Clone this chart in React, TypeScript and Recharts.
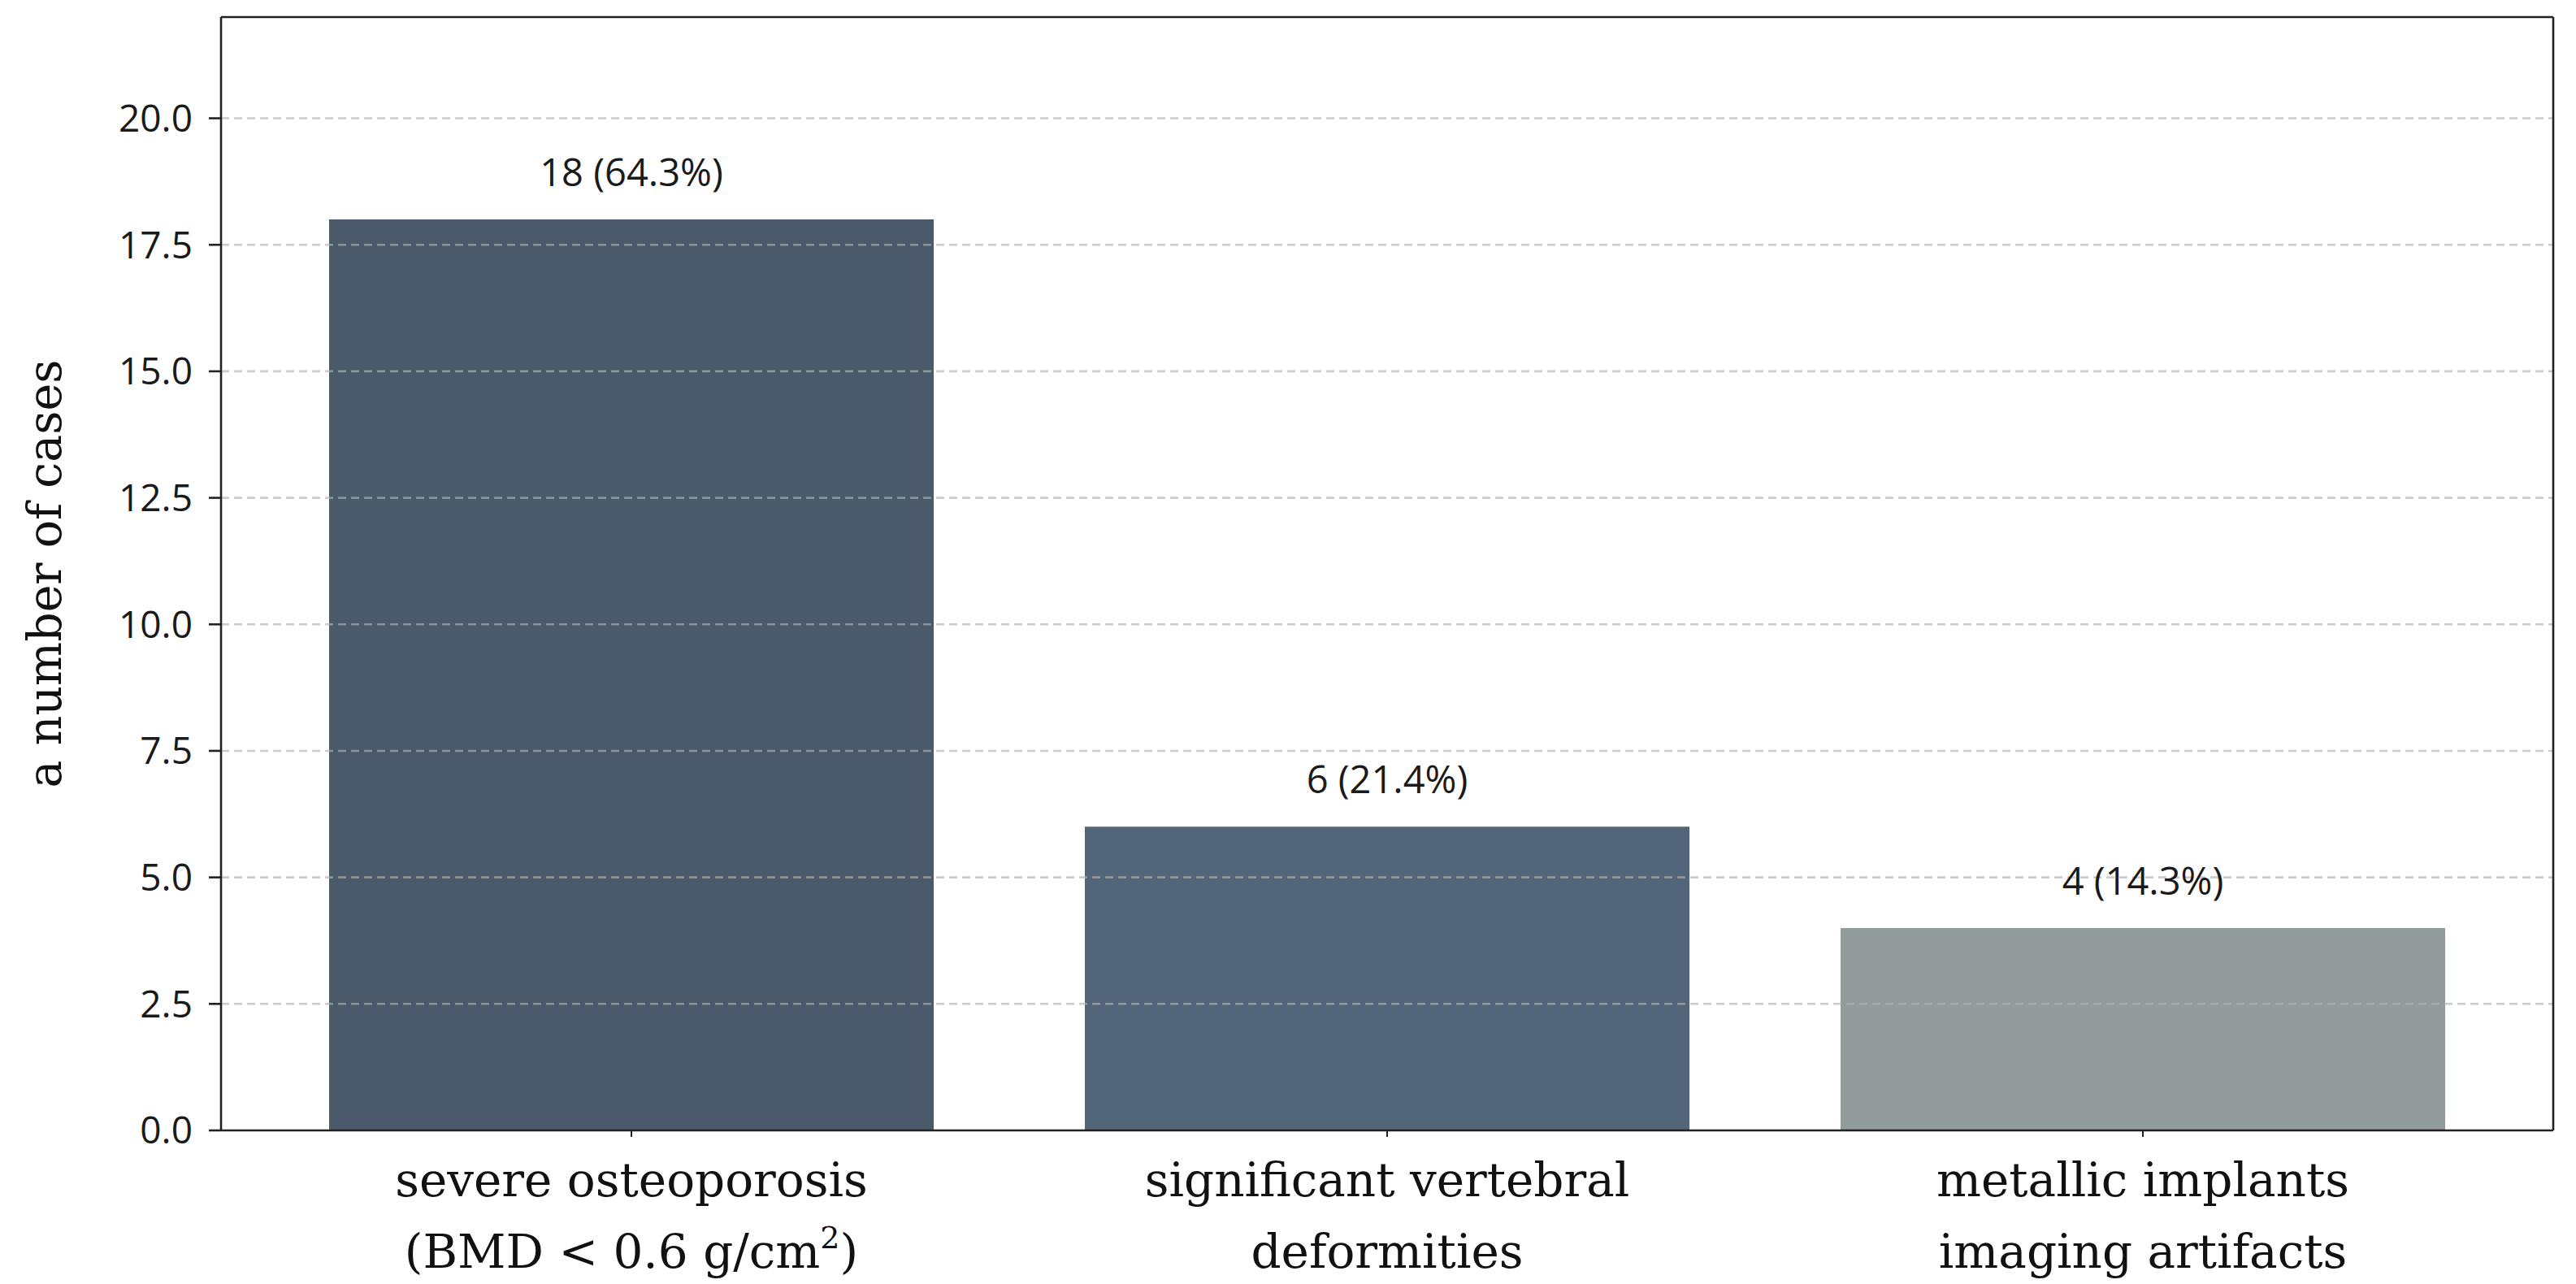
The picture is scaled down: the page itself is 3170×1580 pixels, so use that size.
import React from 'react';
import { BarChart, Bar, XAxis, YAxis, Cell, LabelList, ReferenceLine } from 'recharts';

const categories = ['severe osteoporosis', 'significant vertebral', 'metallic implants'];
const categoryLine2 = ['(BMD < 0.6 g/cm', 'deformities', 'imaging artifacts'];
const categorySup = ['2', '', ''];
const categoryTail = [')', '', ''];
const caseCounts = [18, 6, 4];
const valueLabels = ['18 (64.3%)', '6 (21.4%)', '4 (14.3%)'];
const barColors = ['#4a5a6a', '#536579', '#919c9b'];
const yTicks = [0, 2.5, 5, 7.5, 10, 12.5, 15, 17.5, 20];
const yMax = 22;

const data = categories.map((c, i) => ({
  name: c,
  idx: i,
  value: caseCounts[i],
  label: valueLabels[i],
}));

const SERIF = '"DejaVu Serif", serif';
const SANS = '"Open Sans", sans-serif';

const XTick = (props: any) => {
  const { x, y, payload } = props;
  const i = data.findIndex((d) => d.name === payload.value);
  return (
    <g>
      <text x={x} y={y + 73} textAnchor="middle" fontFamily={SERIF} fontSize={58} fill="#111">
        {categories[i]}
      </text>
      <text x={x} y={y + 161} textAnchor="middle" fontFamily={SERIF} fontSize={58} fill="#111">
        {categoryLine2[i]}
        {categorySup[i] ? (
          <tspan fontSize={38} dy={-24}>{categorySup[i]}</tspan>
        ) : null}
        {categoryTail[i] ? <tspan dy={24}>{categoryTail[i]}</tspan> : null}
      </text>
    </g>
  );
};

const ValueLabel = (props: any) => {
  const { x, y, width, value } = props;
  return (
    <text x={x + width / 2} y={y - 41} textAnchor="middle" fontFamily={SANS} fontSize={47} fill="#1a1a1a">
      {value}
    </text>
  );
};

const YLabel = (props: any) => {
  const vb = props.viewBox || {};
  const cy = vb.y + vb.height / 2;
  const cx = 75;
  return (
    <text
      x={cx}
      y={cy}
      transform={`rotate(-90, ${cx}, ${cy})`}
      textAnchor="middle"
      fontFamily={SERIF}
      fontSize={57}
      fill="#111"
    >
      a number of cases
    </text>
  );
};

export default function App() {
  return (
    <div style={{ position: 'absolute', left: 0, top: 0, width: 3170, height: 1580, background: '#fff' }}>
      <BarChart
        width={3170}
        height={1580}
        data={data}
        margin={{ top: 21, right: 28, left: 0, bottom: 0 }}
        barCategoryGap="10%"
      >
        <XAxis
          dataKey="name"
          height={189}
          padding={{ left: 40, right: 40 }}
          tickSize={8}
          tickMargin={0}
          tick={<XTick />}
          interval={0}
          axisLine={{ stroke: '#222', strokeWidth: 2.6 }}
          tickLine={{ stroke: '#222', strokeWidth: 2 }}
        />
        <XAxis xAxisId="frame" type="number" dataKey="idx" domain={[0, 1]} allowDataOverflow hide />
        <YAxis
          width={272}
          domain={[0, yMax]}
          ticks={yTicks}
          type="number"
          allowDataOverflow
          tickFormatter={(v: number) => v.toFixed(1)}
          tickSize={15}
          tickMargin={20}
          tick={{ fontFamily: SANS, fontSize: 46, fill: '#1a1a1a' }}
          axisLine={{ stroke: '#222', strokeWidth: 2.6 }}
          tickLine={{ stroke: '#222', strokeWidth: 2.6 }}
          label={<YLabel />}
        />
        <Bar dataKey="value" isAnimationActive={false}>
          {data.map((d, i) => (
            <Cell key={d.name} fill={barColors[i]} />
          ))}
          <LabelList dataKey="label" content={<ValueLabel />} />
        </Bar>
        {yTicks
          .filter((t) => t > 0)
          .map((t) => (
            <ReferenceLine
              key={`g${t}`}
              y={t}
              stroke="#b0b0b0"
              strokeOpacity={0.65}
              strokeWidth={2.6}
              strokeDasharray="10 6"
            />
          ))}
        <ReferenceLine y={yMax} stroke="#222" strokeWidth={2.6} />
        <ReferenceLine xAxisId="frame" x={1} stroke="#222" strokeWidth={2.6} ifOverflow="visible" />
      </BarChart>
    </div>
  );
}
